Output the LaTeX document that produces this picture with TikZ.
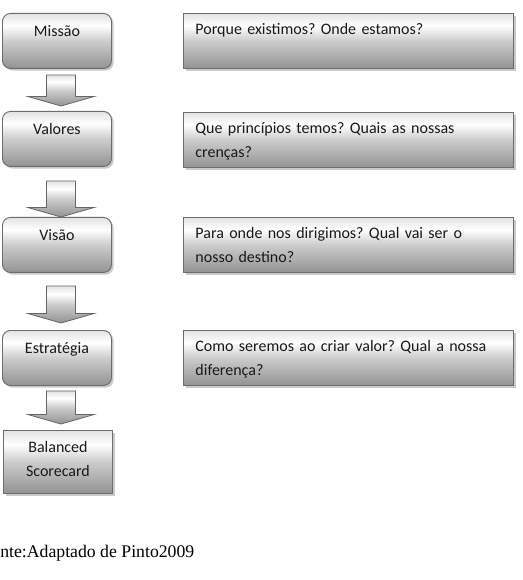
\documentclass[tikz,border=0pt]{standalone}
\usepackage{fontspec}
\setmainfont{Carlito}
\newfontfamily\captionfont{Liberation Serif}
\usetikzlibrary{calc, shadows}
\frenchspacing

\pgfdeclareverticalshading{boxfade}{100bp}{color(0bp)=(gray!85); color(25bp)=(gray!85);
  color(50bp)=(gray!40); color(64bp)=(white); color(75bp)=(gray!22); color(100bp)=(gray!22)}

% block arrow between two stacked boxes: source, target, gap below, gap above
\newcommand{\blockarrow}[4]{%
  \path[blockarrow] let \p1=($(#1.south)+(4,#3)$), \p2=($(#2.north)+(4,-#4)$) in
    (\x1-10.9pt,\y1) -- (\x1+10.9pt,\y1) -- (\x1+10.9pt,\y2+7.1pt)
    -- (\x1+24.75pt,\y2+7.1pt) -- (\x1,\y2) -- (\x1-24.75pt,\y2+7.1pt)
    -- (\x1-10.9pt,\y2+7.1pt) -- cycle;}

\begin{document}
\begin{tikzpicture}[
  x=0.75pt, y=-0.75pt,
  font=\fontsize{12pt}{18pt}\selectfont,
  boxbase/.style={draw=gray!85!black, line width=0.7pt, shading=boxfade,
                  text=black!90, inner ysep=0pt, anchor=north west,
                  drop shadow={shadow xshift=1.6pt, shadow yshift=-1.6pt,
                               opacity=0.35, fill=black!60}},
  stagebox/.style={boxbase, rounded corners=6pt, text width=81.75pt,
                   inner xsep=0pt, align=center,
                   text height=17.25pt, text depth=24pt},
  endbox/.style={stagebox, rounded corners=0pt, text height=16.5pt, text depth=30.75pt},
  askbox/.style={boxbase, text width=229.5pt, inner xsep=9pt, align=left,
                 text height=15.75pt, text depth=25.5pt},
  blockarrow/.style={draw=gray!80!black, line width=0.6pt, shading=boxfade}
]
  \useasboundingbox (0,0) rectangle (522,580);

  % stages
  \node[stagebox] (missao)     at (2,13)  {Missão};
  \node[stagebox] (valores)    at (2,111) {Valores};
  \node[stagebox] (visao)      at (2,217) {Visão};
  \node[stagebox] (estrategia) at (2,330) {Estratégia};
  \node[endbox]   (balanced)   at (3,430) {Balanced\\Scorecard};

  % questions
  \node[askbox] (porque) at (183,13)  {Porque existimos? Onde estamos?};
  \node[askbox] (que)    at (183,112) {Que princípios temos? Quais as nossas\\crenças?};
  \node[askbox] (para)   at (183,217) {Para onde nos dirigimos? Qual vai ser o\\nosso destino?};
  \node[askbox] (como)   at (183,330) {Como seremos ao criar valor? Qual a nossa\\diferença?};

  % arrows
  \blockarrow{missao}{valores}{6}{5}
  \blockarrow{valores}{visao}{14}{0}
  \blockarrow{visao}{estrategia}{13}{7}
  \blockarrow{estrategia}{balanced}{5}{6}

  \node[anchor=base west, inner sep=0pt, font=\captionfont\fontsize{13.3pt}{15pt}\selectfont]
    (fonte) at (0,557) {nte:Adaptado de Pinto2009};
\end{tikzpicture}
\end{document}
